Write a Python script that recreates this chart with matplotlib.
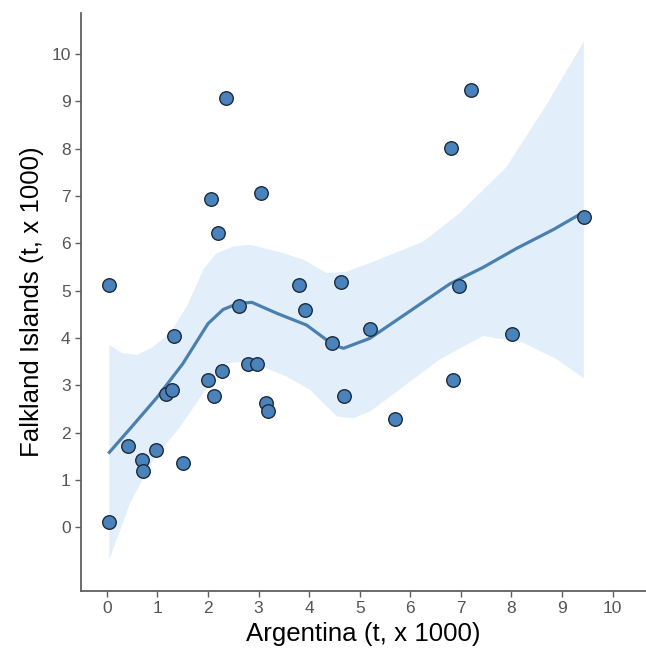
import matplotlib
matplotlib.use("Agg")
import matplotlib.pyplot as plt

plt.rcParams['font.family'] = ['Liberation Sans', 'DejaVu Sans']

# catch data (t x 1000)
argentina = [0.05, 0.05, 0.41, 0.70, 0.72, 0.98, 1.17, 1.28, 1.32, 1.51, 2.01, 2.06,
             2.12, 2.20, 2.28, 2.36, 2.61, 2.79, 2.97, 3.05, 3.14, 3.19, 3.80, 3.92,
             4.45, 4.63, 4.68, 5.20, 5.70, 6.81, 6.84, 6.97, 7.21, 8.02, 9.43]
falklands = [5.12, 0.10, 1.72, 1.42, 1.19, 1.63, 2.82, 2.89, 4.04, 1.35, 3.11, 6.94,
             2.77, 6.21, 3.31, 9.07, 4.68, 3.44, 3.44, 7.06, 2.63, 2.46, 5.11, 4.59,
             3.89, 5.18, 2.78, 4.18, 2.29, 8.02, 3.10, 5.09, 9.23, 4.08, 6.56]

# smoother line as drawn
fit_x = [0.05, 0.5, 1.0, 1.5, 2.0, 2.3, 2.6, 2.87, 3.36, 3.95, 4.48, 4.68, 5.2,
         5.93, 6.78, 7.44, 8.1, 8.83, 9.43]
fit_y = [1.58, 2.13, 2.75, 3.45, 4.3, 4.6, 4.73, 4.75, 4.52, 4.27, 3.85, 3.78, 3.99,
         4.52, 5.14, 5.49, 5.89, 6.29, 6.66]

# confidence band
hi_x = [0.05, 0.3, 0.6, 0.9, 1.25, 1.6, 1.91, 2.17, 2.5, 2.83, 3.49, 3.89, 4.35,
        4.74, 5.2, 6.25, 6.98, 7.9, 8.7, 9.43]
hi_y = [3.85, 3.68, 3.64, 3.8, 4.1, 4.7, 5.45, 5.79, 5.93, 5.97, 5.79, 5.65, 5.37,
        5.40, 5.58, 6.03, 6.64, 7.61, 8.94, 10.26]
lo_x = [0.05, 0.46, 0.92, 1.45, 2.04, 2.37, 2.83, 3.56, 4.02, 4.55, 4.87, 5.2, 5.6,
        6.59, 7.44, 8.23, 8.89, 9.43]
lo_y = [-0.69, 0.51, 1.42, 2.12, 3.04, 3.47, 3.5, 3.18, 2.9, 2.34, 2.3, 2.44, 2.76,
        3.55, 4.04, 3.9, 3.55, 3.15]

fig = plt.figure(figsize=(6.46, 6.55), dpi=100)
ax = fig.add_axes([0.1254, 0.0977, 0.8746, 0.882])

band_x = hi_x + lo_x[::-1]
band_y = hi_y + lo_y[::-1]
ax.fill(band_x, band_y, color='#e3eefb', lw=0, zorder=1)
ax.plot(fit_x, fit_y, color='#4a80b0', lw=2.3, zorder=2)
ax.scatter(argentina, falklands, s=95, color='#4a82bc', edgecolor='#1c2b3a',
           linewidth=1.0, zorder=3)

ax.set_xlim(-0.51, 10.66)
ax.set_ylim(-1.35, 10.86)
ax.set_xticks(range(0, 11))
ax.set_yticks(range(0, 11))

for s in ['top', 'right']:
    ax.spines[s].set_visible(False)
for s in ['left', 'bottom']:
    ax.spines[s].set_color('#606060')
    ax.spines[s].set_linewidth(1.3)
ax.tick_params(colors='#606060', labelcolor='#555555', labelsize=12.5,
               length=4, width=1)

ax.set_xlabel('Argentina (t, x 1000)', fontsize=18.6, labelpad=4)
ax.set_ylabel('Falkland Islands (t, x 1000)', fontsize=18.6, labelpad=5)

fig.savefig('out.png', dpi=100)
